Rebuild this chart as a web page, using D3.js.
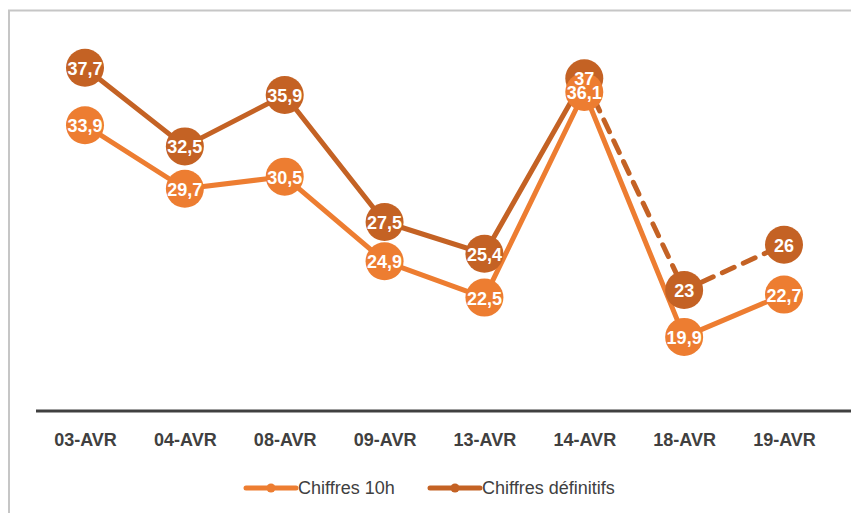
<!DOCTYPE html>
<html lang="fr">
<head>
<meta charset="UTF-8">
<title>Chiffres</title>
<script src="https://cdn.jsdelivr.net/npm/d3@7"></script>
<style>
  body { margin: 0; background: #fff; }
  text { font-family: "Liberation Sans", Arial, sans-serif; }
</style>
</head>
<body>
<svg width="851" height="513" id="mainsvg"></svg>
<script>
  const categories = ['03-AVR', '04-AVR', '08-AVR', '09-AVR', '13-AVR', '14-AVR', '18-AVR', '19-AVR']
  const chiffres10h = [33.9, 29.7, 30.5, 24.9, 22.5, 36.1, 19.9, 22.7]
  const chiffresDefinitifs = [37.7, 32.5, 35.9, 27.5, 25.4, 37, 23, 26]
  // définitifs line is dashed from this index on
  const dashFrom = 5

  const svg = d3.select('#mainsvg')
  const width = +svg.attr('width')
  const height = +svg.attr('height')

  const light = '#ED7D31'
  const dark = '#C46224'

  // frame (only top and left edges are visible)
  svg.append('line').attr('x1', 8).attr('x2', width).attr('y1', 10.5).attr('y2', 10.5)
    .attr('stroke', '#c6c6c6').attr('stroke-width', 2)
  svg.append('line').attr('x1', 9).attr('x2', 9).attr('y1', 10).attr('y2', height)
    .attr('stroke', '#c6c6c6').attr('stroke-width', 2)

  const xScale = d3.scalePoint().domain(categories).range([85, 784])
  const yScale = d3.scaleLinear().domain([15, 40]).range([411, 33])

  // x axis
  const xAxis = d3.axisBottom(xScale).tickSize(0).tickPadding(22)
  const axisG = svg.append('g').attr('transform', 'translate(0,411)').call(xAxis)
  axisG.select('.domain').remove()
  axisG.selectAll('.tick text')
    .attr('font-family', '"Liberation Sans", Arial, sans-serif')
    .attr('font-size', 18).attr('font-weight', 'bold').attr('fill', '#404040')
  svg.append('line').attr('x1', 36).attr('x2', width).attr('y1', 411).attr('y2', 411)
    .attr('stroke', '#404040').attr('stroke-width', 3)

  const line = d3.line()
    .defined(d => d != null)
    .x((d, i) => xScale(categories[i]))
    .y(d => yScale(d))

  const fmt = v => String(v).replace('.', ',')

  const gLines = svg.append('g')
  const gMarks = svg.append('g')
  const gLabels = svg.append('g')

  // définitifs: solid then dashed
  gLines.append('path').attr('d', line(chiffresDefinitifs.map((v, i) => i <= dashFrom ? v : null)))
    .attr('fill', 'none').attr('stroke', dark).attr('stroke-width', 5).attr('stroke-linejoin', 'round')
  gLines.append('path').attr('d', line(chiffresDefinitifs.map((v, i) => i >= dashFrom ? v : null)))
    .attr('fill', 'none').attr('stroke', dark).attr('stroke-width', 5)
    .attr('stroke-dasharray', '13,10').attr('stroke-linecap', 'round')
  // 10h
  gLines.append('path').attr('d', line(chiffres10h))
    .attr('fill', 'none').attr('stroke', light).attr('stroke-width', 5).attr('stroke-linejoin', 'round')

  const series = [
    { values: chiffresDefinitifs, color: dark },
    { values: chiffres10h, color: light }
  ]
  series.forEach(s => {
    gMarks.selectAll(null).data(s.values).enter().append('circle')
      .attr('cx', (d, i) => xScale(categories[i]))
      .attr('cy', d => yScale(d))
      .attr('r', 19)
      .attr('fill', s.color)
  })
  series.forEach(s => {
    gLabels.selectAll(null).data(s.values).enter().append('text')
      .attr('x', (d, i) => xScale(categories[i]))
      .attr('y', d => yScale(d) + 7)
      .attr('text-anchor', 'middle')
      .attr('font-size', 18).attr('font-weight', 'bold').attr('fill', '#fff')
      .text(fmt)
  })

  // legend
  const legend = [
    { name: 'Chiffres 10h', color: light, x: 246 },
    { name: 'Chiffres définitifs', color: dark, x: 430 }
  ]
  legend.forEach(l => {
    svg.append('line').attr('x1', l.x).attr('x2', l.x + 50).attr('y1', 488).attr('y2', 488)
      .attr('stroke', l.color).attr('stroke-width', 5).attr('stroke-linecap', 'round')
    svg.append('circle').attr('cx', l.x + 25).attr('cy', 488).attr('r', 4.5).attr('fill', l.color)
    svg.append('text').attr('x', l.x + 52).attr('y', 494).text(l.name)
      .attr('font-size', 18).attr('fill', '#404040')
  })
</script>
</body>
</html>
